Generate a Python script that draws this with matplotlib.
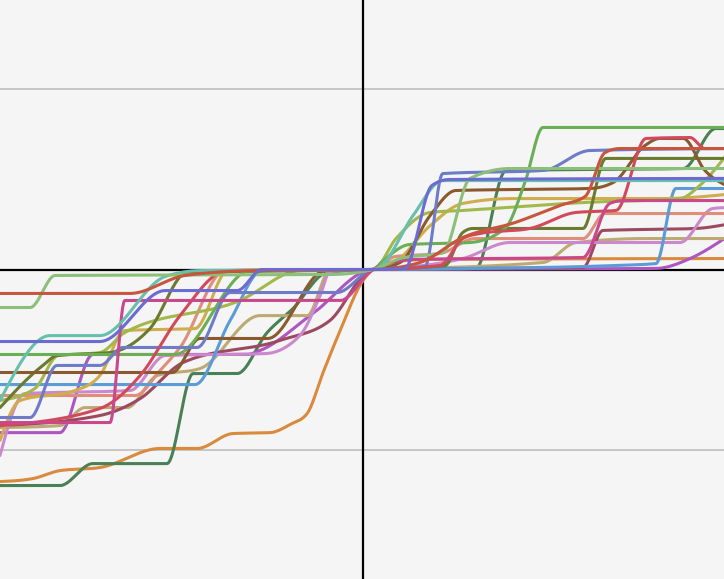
import numpy as np
import matplotlib
matplotlib.use("Agg")
import matplotlib.pyplot as plt

# ---- data (x: time offset, y: cumulative value) ----
red_orange_x = [-100, -64.2, -49.0, -29.8, 2.8, 15.7, 27.5, 41.9, 54.3, 61.2, 66.7, 70.8, 100]
red_orange_y = [-13.3, -13.3, -3.3, -0.6, 0, 3.9, 17.8, 26.1, 35.6, 40.6, 65.0, 67.2, 67.2]

light_green_x = [-100, -91.7, -84.8, -9.1, 2.8, 10.2, 22.0, 29.5, 40.5, 100]
light_green_y = [-21.1, -21.1, -3.3, -2.8, 0, 6.1, 9.4, 50.6, 56.1, 56.1]

teal_x = [-100, -86.2, -72.5, -54.5, -44.9, 2.8, 5.0, 13.8, 22.0, 100]
teal_y = [-72.8, -36.7, -36.7, -3.9, -0.6, 0, 2.2, 30.0, 49.4, 49.4]

blue_purple_x = [-100, -72.5, -54.5, -34.7, -27.8, 2.8, 11.5, 19.0, 23.7, 100]
blue_purple_y = [-40.0, -40.0, -11.7, -11.7, 0, 0, 0.6, 46.7, 50.0, 50.6]

slate_x = [-100, -91.7, -84.3, -72.5, -66.1, -45.7, -36.6, -7.2, 2.8, 17.1, 22.0, 49.6, 62.5, 100]
slate_y = [-82.2, -82.2, -53.3, -53.3, -43.3, -43.3, -12.8, -12.8, 0, 1.7, 53.3, 55.0, 66.1, 67.2]

green_x = [-100, -51.8, -31.1, 2.8, 5.0, 12.9, 29.5, 39.1, 44.6, 49.6, 100]
green_y = [-47.2, -47.2, -0.6, 0, 3.9, 13.9, 15.0, 22.8, 48.3, 78.9, 78.9]

brown_x = [-100, -52.6, -44.9, -26.2, -10.5, 2.8, 10.2, 18.5, 25.6, 62.5, 68.9, 77.7, 81.8, 88.2, 94.2, 100]
brown_y = [-57.2, -57.2, -38.3, -38.3, -0.6, 0, 3.9, 30.0, 43.9, 45.0, 48.3, 68.9, 72.8, 72.8, 55.0, 46.7]

olive_x = [-100, -88.2, -84.3, -69.7, -58.7, -48.5, 2.8, 22.6, 27.5, 30.3, 60.6, 66.9, 100]
olive_y = [-76.7, -53.3, -47.8, -46.1, -32.8, -1.7, 0, 2.2, 20.6, 22.8, 22.8, 61.7, 61.7]

magenta_x = [-100, -69.7, -65.6, -6.3, 2.8, 13.8, 60.6, 68.0, 71.6, 100]
magenta_y = [-85.0, -85.0, -17.2, -17.2, 0, 5.6, 6.7, 36.7, 38.3, 38.3]

yellow_green_x = [-100, -90.4, -84.0, -72.5, -65.6, -33.9, -17.4, 2.8, 9.1, 18.5, 27.5, 60.6, 87.3, 92.8, 100]
yellow_green_y = [-72.8, -66.1, -47.8, -46.1, -35.0, -17.2, -0.6, 0, 17.2, 31.7, 32.8, 37.2, 39.4, 46.7, 63.3]

gold_x = [-100, -94.5, -79.3, -72.5, -65.6, -46.3, -37.2, 2.8, 8.8, 18.5, 27.5, 41.3, 82.6, 100]
gold_y = [-95.0, -72.8, -67.2, -58.9, -33.9, -32.8, -0.6, 0, 3.9, 24.4, 36.7, 39.4, 39.4, 41.7]

salmon_x = [-100, -62.8, -55.9, -50.4, -38.0, 2.8, 8.8, 21.2, 30.9, 60.6, 66.7, 100]
salmon_y = [-70.0, -70.0, -56.1, -43.3, -0.6, 0, 7.2, 8.9, 17.2, 17.2, 31.1, 31.1]

blue_x = [-100, -46.3, -36.6, -27.8, 2.8, 31.1, 68.9, 80.7, 86.2, 100]
blue_y = [-63.9, -63.9, -28.3, -0.6, 0, 0.6, 2.2, 3.3, 45.0, 45.0]

dark_green_x = [-100, -83.5, -74.4, -54.0, -46.8, -34.7, -26.4, -19.3, -9.9, 2.8, 31.1, 39.4, 88.2, 97.2, 100]
dark_green_y = [-120.0, -120.0, -107.8, -107.8, -57.8, -57.8, -35.0, -21.7, -1.7, 0, 0.6, 55.0, 56.1, 78.3, 78.3]

orange_x = [-100, -90.9, -83.5, -72.5, -55.9, -45.7, -35.8, -25.6, -20.1, -15.4, -11.0, -6.3, 0, 2.8, 7.4, 18.5, 100]
orange_y = [-117.8, -116.1, -111.7, -110.0, -99.4, -99.4, -91.1, -90.6, -86.1, -80.0, -57.2, -33.9, -6.1, 0, 3.9, 5.6, 6.1]

maroon_x = [-100, -72.5, -61.4, -49.6, -22.9, -9.1, 2.8, 60.6, 66.1, 91.7, 100]
maroon_y = [-86.7, -81.1, -71.7, -51.7, -39.4, -28.3, 0, 1.1, 21.7, 22.8, 25.0]

lavender_x = [-100, -93.1, -64.2, -54.5, -26.9, -17.4, -11.8, -9.1, 2.8, 27.5, 40.5, 87.3, 96.4, 100]
lavender_y = [-103.3, -68.9, -67.2, -47.8, -46.7, -36.7, -14.4, -1.1, 0, 6.1, 15.0, 15.0, 33.9, 34.4]

purple_x = [-100, -83.5, -74.4, -32.0, -28.4, -13.8, 2.8, 80.7, 90.1, 100]
purple_y = [-90.6, -90.6, -47.2, -47.2, -45.0, -24.4, 0, 0.6, 6.1, 17.8]

tan_x = [-100, -83.5, -76.6, -65.0, -56.7, -44.9, -28.4, -15.4, -9.1, 2.8, 49.6, 58.7, 78.0, 100]
tan_y = [-87.8, -86.7, -76.7, -76.7, -58.9, -55.0, -25.6, -25.6, -0.6, 0, 3.9, 15.0, 17.2, 17.2]

crimson_x = [-100, -72.5, -61.4, -50.4, -37.5, 2.8, 21.2, 27.5, 32.2, 46.0, 58.7, 69.7, 78.0, 90.1, 94.2, 100]
crimson_y = [-86.7, -77.2, -58.9, -25.6, -0.6, 0, 2.2, 17.2, 20.0, 22.8, 31.7, 32.8, 72.8, 73.3, 67.2, 67.2]

series = [
    (orange_x, orange_y, "#d98a3c"),
    (dark_green_x, dark_green_y, "#4a8055"),
    (purple_x, purple_y, "#ad55c0"),
    (tan_x, tan_y, "#bcaa72"),
    (maroon_x, maroon_y, "#9c4a60"),
    (lavender_x, lavender_y, "#cc88cc"),
    (salmon_x, salmon_y, "#de8e7a"),
    (blue_x, blue_y, "#5b9bd8"),
    (gold_x, gold_y, "#cfad4d"),
    (yellow_green_x, yellow_green_y, "#a3b84b"),
    (olive_x, olive_y, "#6a7a2e"),
    (brown_x, brown_y, "#8a5a2e"),
    (green_x, green_y, "#6aae55"),
    (slate_x, slate_y, "#6d7bc8"),
    (crimson_x, crimson_y, "#d14a5c"),
    (magenta_x, magenta_y, "#c9488c"),
    (teal_x, teal_y, "#67bfae"),
    (light_green_x, light_green_y, "#8cbf78"),
    (red_orange_x, red_orange_y, "#c8553d"),
    (blue_purple_x, blue_purple_y, "#6b6bd3"),
]


def monotone_curve(xs, ys, n=30):
    """Monotone-X cubic curve (same construction as d3.curveMonotoneX)."""
    xs = np.asarray(xs, float)
    ys = np.asarray(ys, float)
    m = len(xs)
    h = np.diff(xs)
    s = np.diff(ys) / h
    t = np.zeros(m)
    for i in range(1, m - 1):
        h0, h1 = h[i - 1], h[i]
        s0, s1 = s[i - 1], s[i]
        p = (s0 * h1 + s1 * h0) / (h0 + h1)
        t[i] = (np.sign(s0) + np.sign(s1)) * min(abs(s0), abs(s1), 0.5 * abs(p))
    if m > 2:
        t[0] = (3 * s[0] - t[1]) / 2
        t[-1] = (3 * s[-1] - t[-2]) / 2
    else:
        t[:] = s[0]
    u = np.linspace(0, 1, n)
    px, py = [], []
    for i in range(m - 1):
        x0, x1, y0, y1 = xs[i], xs[i + 1], ys[i], ys[i + 1]
        d = h[i] / 3
        cx = [x0, x0 + d, x1 - d, x1]
        cy = [y0, y0 + d * t[i], y1 - d * t[i + 1], y1]
        b0 = (1 - u) ** 3
        b1 = 3 * (1 - u) ** 2 * u
        b2 = 3 * (1 - u) * u ** 2
        b3 = u ** 3
        px.append(b0 * cx[0] + b1 * cx[1] + b2 * cx[2] + b3 * cx[3])
        py.append(b0 * cy[0] + b1 * cy[1] + b2 * cy[2] + b3 * cy[3])
    return np.concatenate(px), np.concatenate(py)


fig = plt.figure(figsize=(7.24, 5.79), dpi=100)
fig.patch.set_facecolor("#f5f5f5")
ax = fig.add_axes([0, 0, 1, 1])
ax.set_facecolor("#f5f5f5")

for yv in (-100, 100):
    ax.axhline(yv, color="#c3c3c3", lw=1.3, zorder=1)
ax.axhline(0, color="black", lw=1.6, zorder=2)
ax.axvline(0, color="black", lw=1.6, zorder=2)

for xs, ys, c in series:
    cx, cy = monotone_curve(xs, ys)
    ax.plot(cx, cy, color=c, lw=2.2, solid_capstyle="round", zorder=3)

ax.set_xlim(-100, 99.45)
ax.set_ylim(-171.9, 149.7)
ax.set_xticks([])
ax.set_yticks([])
for sp in ax.spines.values():
    sp.set_visible(False)

fig.savefig("out.png", dpi=100, facecolor=fig.get_facecolor())
